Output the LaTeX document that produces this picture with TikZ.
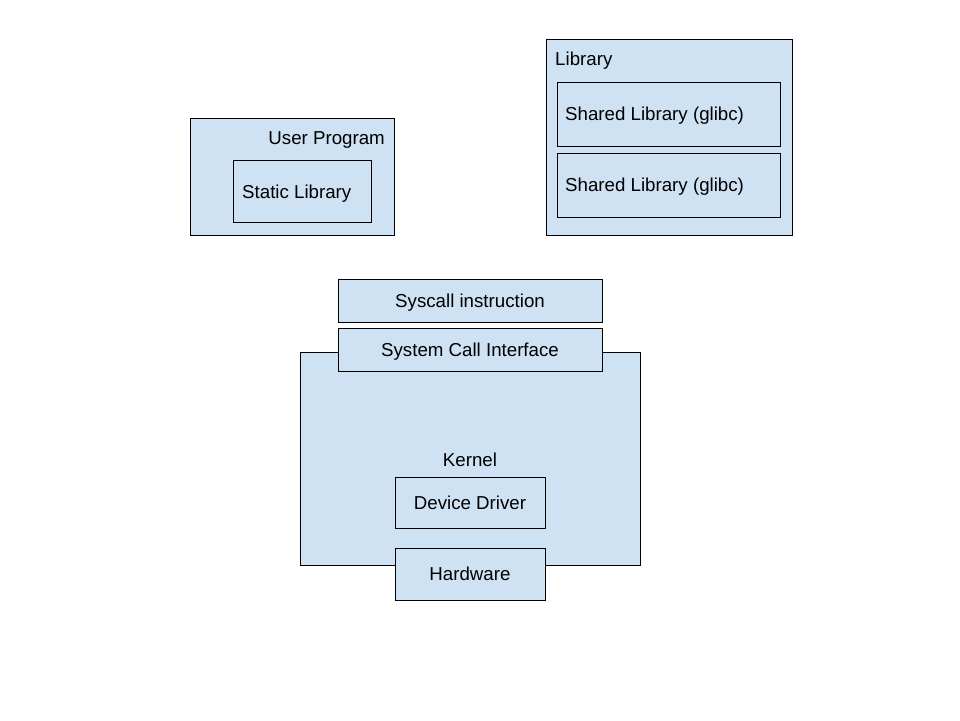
\documentclass[tikz,border=0pt]{standalone}
\usepackage{fontspec}
\setmainfont{Liberation Sans}
\usetikzlibrary{positioning}
\definecolor{boxblue}{HTML}{CFE2F3}
\tikzset{
  box/.style={draw=black, fill=boxblue, line width=0.8pt, inner sep=0pt, outer sep=0pt, anchor=north west},
  txt/.style={font=\fontsize{18.7}{22}\selectfont, inner sep=0pt, text height=13.4pt, text depth=0pt}
}
\begin{document}
\begin{tikzpicture}[x=1pt,y=-1pt]
  % page of 960 x 720, y runs downwards
  \useasboundingbox (0,0) rectangle (960,720);

  % --- user program with its static library
  \node[box, minimum width=204pt, minimum height=117pt] (user) at (190,118) {};
  \node[txt, anchor=east] (userlbl) at (385,138) {User Program};
  \node[box, minimum width=138pt, minimum height=62pt] (static) at (233,160) {};
  \node[txt, anchor=west] (staticlbl) at (242,192) {Static Library};

  % --- shared libraries
  \node[box, minimum width=246pt, minimum height=196pt] (lib) at (546,39) {};
  \node[txt, anchor=west] (liblbl) at (555,59) {Library};
  \foreach \n/\y in {1/82, 2/153} {
    \node[box, minimum width=223pt, minimum height=64pt] (shared\n) at (557,\y) {};
    \node[txt, anchor=west] (sharedlbl\n) at (565,\y+32) {Shared Library (glibc)};
  }

  % --- kernel side
  \node[box, minimum width=264pt, minimum height=43pt] (syscall) at (338,279) {};
  \node[txt] (syscalllbl) at (syscall.center) {Syscall instruction};
  \node[box, minimum width=340pt, minimum height=213pt] (kernel) at (300,352) {};
  \node[txt] (kernellbl) at (470,460) {Kernel};
  \node[box, minimum width=264pt, minimum height=43pt] (sci) at (338,328) {};
  \node[txt] (scilbl) at (sci.center) {System Call Interface};
  \node[box, minimum width=150pt, minimum height=51pt] (driver) at (395,477) {};
  \node[txt] (driverlbl) at (driver.center) {Device Driver};
  \node[box, minimum width=150pt, minimum height=52pt] (hw) at (395,548) {};
  \node[txt] (hwlbl) at (hw.center) {Hardware};
\end{tikzpicture}
\end{document}
